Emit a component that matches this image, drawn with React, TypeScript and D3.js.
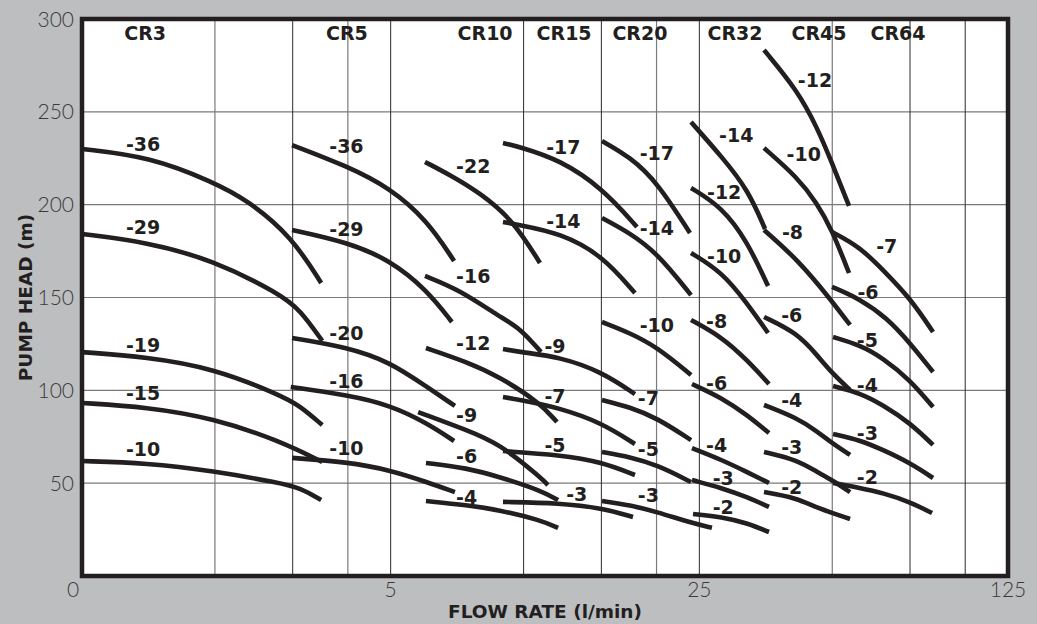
import React from 'react';
import * as d3 from 'd3';

type Pt = [number, number];
interface PumpCurve {
  stage: string;
  pts: Pt[];
  label: Pt;
}

// pump families and where their names sit along the flow axis
const models = ['CR3', 'CR5', 'CR10', 'CR15', 'CR20', 'CR32', 'CR45', 'CR64'];
const modelLabelFlow = [1.39, 3.98, 8.18, 12.35, 18.34, 30.12, 46.65, 70.45];

// [flow l/min, head m]
const cr3: PumpCurve[] = [
  { stage: '-36', pts: [[1, 230], [1.43, 225.7], [1.98, 212.2], [2.37, 202.5], [2.99, 182.6], [3.48, 157.8]], label: [1.375, 232.7] },
  { stage: '-29', pts: [[1, 184.2], [1.4, 179.9], [1.98, 170.2], [2.81, 151.9], [3.12, 143.3], [3.5, 126.6]], label: [1.375, 188] },
  { stage: '-19', pts: [[1, 120.6], [1.4, 118], [1.98, 112], [2.81, 97.5], [3.12, 91.6], [3.5, 81.3]], label: [1.375, 124.4] },
  { stage: '-15', pts: [[1, 93.2], [1.4, 91], [1.98, 85.1], [2.81, 72.7], [3.5, 61.4]], label: [1.375, 98.6] },
  { stage: '-10', pts: [[1, 61.9], [1.4, 60.9], [1.98, 56.6], [2.81, 50.1], [3.12, 47.4], [3.48, 40.9]], label: [1.375, 68.4] },
];

const cr5: PumpCurve[] = [
  { stage: '-36', pts: [[2.99, 232.1], [3.98, 220.8], [4.98, 209], [6.04, 191.7], [6.96, 169.7]], label: [3.97, 231.6] },
  { stage: '-29', pts: [[2.99, 186.4], [3.98, 179.9], [4.98, 170.2], [6.04, 154], [6.88, 136.8]], label: [3.97, 186.7] },
  { stage: '-20', pts: [[2.99, 128.2], [3.98, 123.3], [4.98, 115.3], [6.04, 101.8], [6.99, 91.6]], label: [3.97, 130.7] },
  { stage: '-16', pts: [[2.97, 101.8], [3.98, 97.5], [4.98, 92.1], [6.04, 82.4], [6.96, 72.7]], label: [3.97, 104.7] },
  { stage: '-10', pts: [[2.99, 63.6], [3.98, 61.4], [4.98, 57.1], [6.04, 50.6], [6.99, 45.2]], label: [3.97, 68.8] },
];

const cr10: PumpCurve[] = [
  { stage: '-22', pts: [[5.98, 223], [6.81, 216], [7.97, 206.3], [9.46, 191.7], [10.89, 168.6]], label: [7.69, 220.8] },
  { stage: '-16', pts: [[5.98, 161.6], [7.18, 154], [8.84, 139.5], [9.81, 133.6], [10.95, 120.6]], label: [7.69, 161.6] },
  { stage: '-12', pts: [[6.01, 122.8], [7.44, 115.3], [8.84, 107.2], [10.89, 93.2], [11.9, 82.9]], label: [7.69, 125.3] },
  { stage: '-9', pts: [[5.77, 88.3], [7.44, 78.6], [8.84, 71.1], [10.89, 53.3], [11.35, 49]], label: [7.43, 86.7] },
  { stage: '-6', pts: [[6.01, 60.9], [7.44, 58.2], [8.84, 53.3], [10.89, 46.3], [11.97, 40.9]], label: [7.43, 64.3] },
  { stage: '-4', pts: [[6.01, 40.4], [7.44, 38.2], [8.84, 35.5], [10.89, 30.2], [11.97, 25.9]], label: [7.43, 42.7] },
];

const cr15: PumpCurve[] = [
  { stage: '-17', pts: [[8.98, 233.2], [9.81, 231.1], [12.09, 224.1], [15.05, 209], [18.06, 188]], label: [12.3, 230.9] },
  { stage: '-14', pts: [[8.98, 190.7], [9.81, 189], [12.09, 184.7], [15.05, 172.9], [17.87, 152.4]], label: [12.3, 191.2] },
  { stage: '-9', pts: [[8.98, 122.3], [9.81, 120.6], [12.09, 118], [15.05, 109.9], [17.87, 98]], label: [11.78, 123.9] },
  { stage: '-7', pts: [[8.98, 96.4], [9.81, 94.8], [12.09, 90.5], [15.05, 82.4], [17.87, 71.1]], label: [11.78, 96.9] },
  { stage: '-5', pts: [[8.98, 67.3], [12.09, 65.2], [15.05, 61.4], [17.87, 54.4]], label: [11.78, 70.6] },
  { stage: '-3', pts: [[8.98, 39.9], [12.09, 39.3], [15.05, 36.6], [17.69, 31.8]], label: [13.19, 44.2] },
];

const cr20: PumpCurve[] = [
  { stage: '-17', pts: [[15.05, 234.3], [17.41, 225.7], [20.06, 212.2], [23.81, 184.7]], label: [20.03, 227.7] },
  { stage: '-14', pts: [[15.05, 192.8], [17.41, 184.7], [20.06, 174], [23.94, 151.3]], label: [20.03, 187.3] },
  { stage: '-10', pts: [[15.05, 136.8], [17.41, 130.9], [20.06, 123.3], [23.94, 108.3]], label: [20.03, 135.2] },
  { stage: '-7', pts: [[15.05, 94.8], [17.41, 91], [20.06, 85.1], [23.94, 73.2]], label: [19.17, 95.7] },
  { stage: '-5', pts: [[15.05, 66.8], [17.41, 64.1], [20.06, 59.8], [23.94, 50.6]], label: [19.17, 68.2] },
  { stage: '-3', pts: [[15.05, 40.4], [17.41, 38.2], [20.06, 34.5], [23.91, 28.7], [26.7, 26]], label: [19.17, 43.6] },
];

const cr32: PumpCurve[] = [
  { stage: '-14', pts: [[23.94, 244.5], [28.13, 225.7], [32.24, 207.9], [35.22, 186.9]], label: [30.3, 237.5] },
  { stage: '-12', pts: [[23.94, 209], [28.13, 198.7], [32.07, 180.4], [35.77, 156.2]], label: [28.46, 207] },
  { stage: '-10', pts: [[23.94, 174], [28.13, 163.7], [31.9, 147.6], [35.77, 130.9]], label: [28.46, 172.4] },
  { stage: '-8', pts: [[23.94, 137.9], [28.13, 128.7], [32.07, 116.3], [35.95, 103.4]], label: [27.36, 137.5] },
  { stage: '-6', pts: [[24.06, 103.4], [28.13, 95.9], [32.07, 86.7], [35.95, 77]], label: [27.36, 103.8] },
  { stage: '-4', pts: [[24.06, 68.9], [28.13, 62.5], [32.07, 56], [35.95, 50.1]], label: [27.36, 70.6] },
  { stage: '-3', pts: [[24.06, 51.7], [28.13, 47.4], [32.07, 42.5], [35.95, 37.2]], label: [28.31, 52.6] },
  { stage: '-2', pts: [[24.19, 33.4], [28.13, 31.8], [32.07, 28.5], [35.95, 23.7]], label: [28.31, 37.3] },
];

const cr45: PumpCurve[] = [
  { stage: '-12', pts: [[35.03, 283.3], [41.61, 261.8], [46.17, 241.8], [49.94, 222.4], [54.57, 199.3]], label: [45.69, 267.1] },
  { stage: '-10', pts: [[35.03, 230.5], [41.61, 214.9], [46.17, 200.9], [49.94, 186.4], [54.57, 163.2]], label: [43.08, 227.3] },
  { stage: '-8', pts: [[35.03, 186.4], [41.82, 170.2], [49.68, 148.7], [54.86, 135.2]], label: [40.64, 185.4] },
  { stage: '-6', pts: [[35.03, 139.5], [41.61, 130.9], [46.17, 119], [49.94, 109.3], [54.86, 100.2]], label: [40.47, 140.6] },
  { stage: '-4', pts: [[35.03, 92.1], [41.61, 85.1], [46.17, 77.9], [49.94, 71.6], [54.86, 65.2]], label: [40.47, 94.8] },
  { stage: '-3', pts: [[35.03, 66.8], [41.61, 62.5], [46.17, 56], [49.94, 51.7], [54.86, 45.2]], label: [40.47, 69.6] },
  { stage: '-2', pts: [[35.03, 45.2], [41.61, 42], [46.17, 36.6], [54.86, 30.7]], label: [40.47, 47.8] },
];

const cr64: PumpCurve[] = [
  { stage: '-7', pts: [[49.94, 185.3], [57.79, 177.2], [65.14, 164.8], [75.02, 149.7], [84.56, 131.4]], label: [66.41, 177.4] },
  { stage: '-6', pts: [[49.94, 155.7], [57.79, 149.2], [66.52, 139], [75.02, 125.5], [84.56, 109.9]], label: [60.24, 153.1] },
  { stage: '-5', pts: [[50.21, 128.7], [57.79, 124.4], [65.14, 117.4], [75.02, 105.6], [84.56, 91]], label: [60.03, 127.1] },
  { stage: '-4', pts: [[50.21, 102.3], [57.79, 98.6], [65.14, 92.1], [75.02, 82.4], [84.56, 70.6]], label: [60.03, 102.9] },
  { stage: '-3', pts: [[50.21, 76.5], [57.79, 73.2], [65.14, 67.9], [75.02, 60.9], [84.56, 52.8]], label: [60.03, 77.2] },
  { stage: '-2', pts: [[50.21, 50.1], [57.79, 47.4], [65.14, 44.7], [75.02, 39.9], [84.13, 33.9]], label: [60.03, 53.5] },
];

const curveSets = [cr3, cr5, cr10, cr15, cr20, cr32, cr45, cr64];

const headTicks = [50, 100, 150, 200, 250, 300];
const flowTicks = [1, 5, 25, 125];
const flowTickLabels = ['0', '5', '25', '125'];
const flowGridDark = [3, 5, 10, 15, 25, 75, 100];
const flowGridLight = [2, 4, 20, 50];

const W = 1037;
const H = 624;
const margin = { top: 19, right: 29, bottom: 48, left: 82 };
const INK = '#231f20';
const BOLD = '"DejaVu Sans", Verdana, sans-serif';
const LIGHT = 'Lato, "Open Sans", sans-serif';

export default function App() {
  const x = d3.scaleLog().domain([1, 125]).range([margin.left, W - margin.right]);
  const y = d3.scaleLinear().domain([0, 300]).range([H - margin.bottom, margin.top]);

  // read-off points are a bit noisy, so smooth them with a B-spline
  const line = d3
    .line<Pt>()
    .x(d => x(d[0]))
    .y(d => y(d[1]))
    .curve(d3.curveBasis);

  const x0 = x(1);
  const x1 = x(125);
  const yTop = y(300);
  const yBot = y(0);

  return (
    <div style={{ position: 'absolute', left: 0, top: 0, width: W, height: H }}>
      <svg width={W} height={H} style={{ display: 'block' }}>
        <rect x={0} y={0} width={W} height={H} fill="#bdbec0" />
        <rect x={x0} y={yTop} width={x1 - x0} height={yBot - yTop} fill="#fff" />

        {/* grid */}
        <g>
          {headTicks.slice(0, -1).map(v => (
            <line key={'h' + v} x1={x0} x2={x1} y1={y(v)} y2={y(v)} stroke="#7a7a7a" strokeWidth={1.2} />
          ))}
          {flowGridLight.map(v => (
            <line key={'l' + v} x1={x(v)} x2={x(v)} y1={yTop} y2={yBot} stroke="#7a7a7a" strokeWidth={1.2} />
          ))}
          {flowGridDark.map(v => (
            <line key={'d' + v} x1={x(v)} x2={x(v)} y1={yTop} y2={yBot} stroke="#2a2a2a" strokeWidth={1} />
          ))}
        </g>

        {/* pump curves */}
        <g fill="none" stroke={INK} strokeWidth={4.6} strokeLinecap="butt">
          {curveSets.map((set, i) =>
            set.map(c => <path key={models[i] + c.stage} d={line(c.pts) || ''} />)
          )}
        </g>

        {/* stage labels */}
        <g fontFamily={BOLD} fontWeight="bold" fontSize={19} fill={INK} textAnchor="middle">
          {curveSets.map((set, i) =>
            set.map(c => (
              <text key={'t' + models[i] + c.stage} x={x(c.label[0])} y={y(c.label[1])} dy="0.36em">
                {c.stage}
              </text>
            ))
          )}
          {models.map((m, i) => (
            <text key={m} x={x(modelLabelFlow[i])} y={yTop + 21}>
              {m}
            </text>
          ))}
        </g>

        {/* frame */}
        <rect x={x0} y={yTop} width={x1 - x0} height={yBot - yTop} fill="none" stroke={INK} strokeWidth={4.5} />

        {/* tick labels */}
        <g fontFamily={LIGHT} fontWeight={300} fontSize={21} fill="#3a3a3a">
          {headTicks.map(v => (
            <text key={'yt' + v} x={x0 - 8} y={y(v) + 7.5} textAnchor="end">
              {v}
            </text>
          ))}
          {flowTicks.map((v, i) => (
            <text key={'xt' + v} x={x(v) - (i === 0 ? 9 : 0)} y={yBot + 21} textAnchor="middle">
              {flowTickLabels[i]}
            </text>
          ))}
        </g>

        {/* axis titles */}
        <text x={545} y={618} textAnchor="middle" fontFamily={BOLD} fontWeight="bold" fontSize={18.5} fill={INK}>
          FLOW RATE (l/min)
        </text>
        <text
          transform={`translate(32,${(yTop + yBot) / 2}) rotate(-90)`}
          textAnchor="middle"
          fontFamily={BOLD}
          fontWeight="bold"
          fontSize={18.5}
          fill={INK}
        >
          PUMP HEAD (m)
        </text>
      </svg>
    </div>
  );
}
